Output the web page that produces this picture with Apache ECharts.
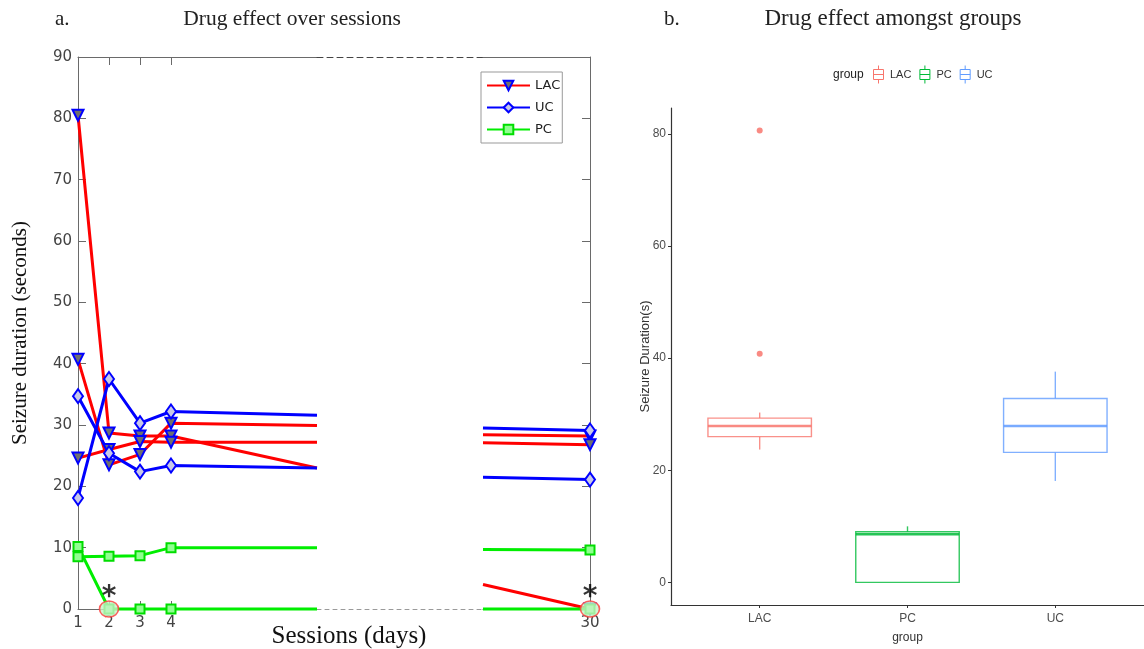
<!DOCTYPE html>
<html>
<head>
<meta charset="utf-8">
<title>Drug effect</title>
<script src="https://cdn.jsdelivr.net/npm/echarts@6.0.0/dist/echarts.min.js"></script>
<style>
    html, body { margin: 0; padding: 0; background: #fff; }
    #main { width: 1144px; height: 649px; }
</style>
</head>
<body>
<div id="main"></div>
<script>
"use strict";

// a. sessions on the x axis (the axis is broken between breakStart and breakEnd)
var sessions = [1, 2, 3, 4];
var lastSession = 30;
var breakStart = 8.71;
var breakEnd = 26.55;

// one row per animal, values at sessions 1..4
var lacEarly = [[80.5, 28.7, 28.2, 28.2], [40.7, 23.5, 25.2, 30.3], [24.6, 26.0, 27.3, 27.2]];
var lacAtBreakStart = [23.0, 29.9, 27.2];
var lacAtBreakEnd = [4.0, 28.4, 27.1];
var lacDay30 = [0, 28.2, 26.8];

var ucEarly = [[34.7, 25.4, 22.4, 23.4], [18.1, 37.5, 30.3, 32.2]];
var ucAtBreakStart = [23.0, 31.6];
var ucAtBreakEnd = [21.5, 29.5];
var ucDay30 = [21.1, 29.1];

var pcEarly = [[8.5, 8.6, 8.7, 10.0], [10.2, 0, 0, 0]];
var pcAtBreakStart = [10.0, 0];
var pcAtBreakEnd = [9.7, 0];
var pcDay30 = [9.6, 0];

// significant points (*)
var sigSessions = [2, 30];
var sigValues = [0, 0];

var yTicksA = [0, 10, 20, 30, 40, 50, 60, 70, 80, 90];

// b. box plot per group: min, Q1, median, Q3, max
var groups = ['LAC', 'PC', 'UC'];
var groupColors = ['#F8766D', '#00BA38', '#619CFF'];
var boxStats = [
    [23.7, 26.0, 27.9, 29.3, 30.3],
    [0, 0, 8.6, 9.05, 10.0],
    [18.1, 23.2, 27.9, 32.8, 37.6]
];
var outlierGroup = [1, 1];
var outlierValues = [40.8, 80.6];
var yTicksB = [0, 20, 40, 60, 80];

var chart = echarts.init(document.getElementById('main'));

var frameColor = '#6a6a6a';
var serif = '"Liberation Serif", "Times New Roman", serif';
var sans = '"DejaVu Sans", sans-serif';
var rSans = '"Liberation Sans", Arial, sans-serif';

var styles = {
    LAC: { line: '#ff0000', symbol: 'triangle', rotate: 180, size: 11, fill: '#6f6f6f', border: '#0000ff' },
    UC: { line: '#0000ff', symbol: 'diamond', rotate: 0, size: [10, 14], fill: '#c8c8e8', border: '#0000ff' },
    PC: { line: '#00ee00', symbol: 'rect', rotate: 0, size: 9, fill: '#90ff90', border: '#00dd00' }
};

function subjectSeries(name, early, atStart, atEnd, day30) {
    var st = styles[name];
    var left = sessions.map(function (s, j) { return [s, early[j]]; });
    left.push({ value: [breakStart, atStart], symbol: 'none' });
    var right = [{ value: [breakEnd, atEnd], symbol: 'none' }, [lastSession, day30]];
    var base = {
        type: 'line',
        name: name,
        symbol: st.symbol,
        symbolRotate: st.rotate,
        symbolSize: st.size,
        showAllSymbol: true,
        clip: false,
        lineStyle: { color: st.line, width: 3 },
        itemStyle: { color: st.fill, borderColor: st.border, borderWidth: 2 },
        emphasis: { disabled: true },
        animation: false
    };
    return [
        Object.assign({}, base, { xAxisIndex: 0, yAxisIndex: 0, data: left }),
        Object.assign({}, base, { xAxisIndex: 4, yAxisIndex: 2, data: right })
    ];
}

var series = [];
lacEarly.forEach(function (row, i) {
    series = series.concat(subjectSeries('LAC', row, lacAtBreakStart[i], lacAtBreakEnd[i], lacDay30[i]));
});
ucEarly.forEach(function (row, i) {
    series = series.concat(subjectSeries('UC', row, ucAtBreakStart[i], ucAtBreakEnd[i], ucDay30[i]));
});
pcEarly.forEach(function (row, i) {
    series = series.concat(subjectSeries('PC', row, pcAtBreakStart[i], pcAtBreakEnd[i], pcDay30[i]));
});

// circled points with star
sigSessions.forEach(function (s, i) {
    var onLeft = s < breakStart;
    series.push({
        type: 'scatter',
        xAxisIndex: onLeft ? 0 : 4,
        yAxisIndex: onLeft ? 0 : 2,
        data: [[s, sigValues[i]]],
        symbol: 'circle',
        symbolSize: [19, 16],
        clip: false,
        z: 5,
        itemStyle: { color: '#c6f3c6', borderColor: '#ff3b3b', borderWidth: 1.5 },
        label: {
            show: true, position: 'top', distance: -11, formatter: '*',
            fontSize: 28, fontWeight: 'bold', color: '#000', fontFamily: sans
        },
        emphasis: { disabled: true },
        animation: false
    });
});

// box plot (ggplot style, no whisker caps)
function boxRenderer(color) {
    return function (params, api) {
        var x = api.value(0);
        var lo = api.coord([x, api.value(1)]);
        var q1 = api.coord([x, api.value(2)]);
        var med = api.coord([x, api.value(3)]);
        var q3 = api.coord([x, api.value(4)]);
        var hi = api.coord([x, api.value(5)]);
        var half = api.size([0.7, 0])[0] / 2;
        var stroke = { stroke: color, lineWidth: 1.4, opacity: 0.8 };
        return {
            type: 'group',
            children: [
                { type: 'line', shape: { x1: hi[0], y1: hi[1], x2: q3[0], y2: q3[1] }, style: stroke },
                { type: 'line', shape: { x1: q1[0], y1: q1[1], x2: lo[0], y2: lo[1] }, style: stroke },
                { type: 'rect', shape: { x: q3[0] - half, y: q3[1], width: half * 2, height: q1[1] - q3[1] },
                  style: Object.assign({ fill: '#fff' }, stroke) },
                { type: 'line', shape: { x1: med[0] - half, y1: med[1], x2: med[0] + half, y2: med[1] },
                  style: { stroke: color, lineWidth: 2.6, opacity: 0.85 } }
            ]
        };
    };
}

groups.forEach(function (g, i) {
    series.push({
        type: 'custom',
        name: 'box ' + g,
        xAxisIndex: 6,
        yAxisIndex: 3,
        data: [[i + 1].concat(boxStats[i])],
        encode: { x: 0, y: [1, 2, 3, 4, 5] },
        itemStyle: { color: '#fff', borderColor: groupColors[i] },
        renderItem: boxRenderer(groupColors[i]),
        animation: false
    });
});

series.push({
    type: 'scatter',
    xAxisIndex: 6,
    yAxisIndex: 3,
    data: outlierValues.map(function (v, i) { return [outlierGroup[i], v]; }),
    symbolSize: 6,
    itemStyle: { color: '#F8766D', opacity: 0.85 },
    emphasis: { disabled: true },
    animation: false
});

var frameTick = { show: true, inside: true, length: 8, lineStyle: { color: frameColor } };

var option = {
    backgroundColor: '#fff',
    animation: false,
    graphic: [
        { type: 'text', x: 55, y: 19, style: { text: 'a.', font: '21px ' + serif, fill: '#222', verticalAlign: 'middle' } },
        { type: 'text', x: 292, y: 19, style: { text: 'Drug effect over sessions', font: '21.5px ' + serif, fill: '#222', align: 'center', verticalAlign: 'middle' } },
        { type: 'text', x: 664, y: 19, style: { text: 'b.', font: '21px ' + serif, fill: '#222', verticalAlign: 'middle' } },
        { type: 'text', x: 893, y: 19, style: { text: 'Drug effect amongst groups', font: '23px ' + serif, fill: '#222', align: 'center', verticalAlign: 'middle' } },
        { type: 'text', x: 349, y: 636, style: { text: 'Sessions (days)', font: '25px ' + serif, fill: '#111', align: 'center', verticalAlign: 'middle' } },
        { type: 'text', x: 833, y: 75, style: { text: 'group', font: '12px ' + rSans, fill: '#222', verticalAlign: 'middle' } }
    ],
    legend: [{
        data: ['LAC', 'UC', 'PC'],
        orient: 'vertical',
        left: 481,
        top: 72,
        itemWidth: 43,
        itemHeight: 12,
        itemGap: 9,
        padding: [7, 2, 7, 5],
        borderColor: '#999',
        borderWidth: 1,
        backgroundColor: '#fff',
        selectedMode: false,
        textStyle: { fontFamily: sans, fontSize: 13, color: '#222' }
    }, {
        data: groups.map(function (g, i) {
            return { name: 'box ' + g, itemStyle: { color: '#fff', borderColor: groupColors[i], borderWidth: 1 } };
        }),
        icon: 'path://M5,0L5,4M0,4L10,4L10,14L0,14ZM0,9L10,9M5,14L5,18',
        left: 868,
        top: 60,
        itemWidth: 13,
        itemHeight: 18,
        itemGap: 8,
        selectedMode: false,
        formatter: function (n) { return n.replace('box ', ''); },
        textStyle: { fontFamily: rSans, fontSize: 11, color: '#333' }
    }],
    grid: [
        { left: 78, top: 57, width: 239, height: 552 },
        { left: 317, top: 57, width: 166, height: 552 },
        { left: 483, top: 57, width: 107, height: 552 },
        { left: 671, top: 108, width: 478, height: 497 }
    ],
    xAxis: [
        {   // 0: early sessions, bottom
            type: 'value', gridIndex: 0, min: 1, max: breakStart, position: 'bottom',
            axisLine: { show: true, onZero: false, lineStyle: { color: frameColor } },
            axisTick: Object.assign({}, frameTick, { customValues: [2, 3, 4] }),
            axisLabel: { customValues: sessions, fontFamily: sans, fontSize: 15, color: '#444', margin: 7 },
            splitLine: { show: false }
        },
        {   // 1: early sessions, top
            type: 'value', gridIndex: 0, min: 1, max: breakStart, position: 'top',
            axisLine: { show: true, onZero: false, lineStyle: { color: frameColor } },
            axisTick: Object.assign({}, frameTick, { customValues: [2, 3, 4] }),
            axisLabel: { show: false },
            splitLine: { show: false }
        },
        {   // 2: broken part, bottom
            type: 'value', gridIndex: 1, min: breakStart, max: breakEnd, position: 'bottom',
            axisLine: { show: true, onZero: false, lineStyle: { color: '#9a9a9a', type: [4, 4] } },
            axisTick: { show: false }, axisLabel: { show: false }, splitLine: { show: false }
        },
        {   // 3: broken part, top
            type: 'value', gridIndex: 1, min: breakStart, max: breakEnd, position: 'top',
            axisLine: { show: true, onZero: false, lineStyle: { color: '#444', type: [6, 4] } },
            axisTick: { show: false }, axisLabel: { show: false }, splitLine: { show: false }
        },
        {   // 4: day 30, bottom
            type: 'value', gridIndex: 2, min: breakEnd, max: lastSession, position: 'bottom',
            axisLine: { show: true, onZero: false, lineStyle: { color: frameColor } },
            axisTick: { show: false },
            axisLabel: { customValues: [lastSession], fontFamily: sans, fontSize: 15, color: '#444', margin: 7 },
            splitLine: { show: false }
        },
        {   // 5: day 30, top
            type: 'value', gridIndex: 2, min: breakEnd, max: lastSession, position: 'top',
            axisLine: { show: true, onZero: false, lineStyle: { color: frameColor } },
            axisTick: { show: false }, axisLabel: { show: false }, splitLine: { show: false }
        },
        {   // 6: groups
            type: 'value', gridIndex: 3, min: 0.4, max: 3.6, position: 'bottom',
            name: 'group', nameLocation: 'middle', nameGap: 27,
            nameTextStyle: { fontFamily: rSans, fontSize: 12, color: '#333' },
            axisLine: { show: true, onZero: false, lineStyle: { color: '#333', width: 1.2 } },
            axisTick: { show: true, length: 3, customValues: [1, 2, 3], lineStyle: { color: '#333' } },
            axisLabel: {
                customValues: [1, 2, 3], margin: 8, fontFamily: rSans, fontSize: 12, color: '#4d4d4d',
                formatter: function (v) { return groups[Math.round(v) - 1]; }
            },
            splitLine: { show: false }
        }
    ],
    yAxis: [
        {   // 0: seizure duration, left
            type: 'value', gridIndex: 0, min: 0, max: 90, interval: 10,
            name: 'Seizure duration (seconds)', nameLocation: 'middle', nameGap: 47,
            nameTextStyle: { fontFamily: serif, fontSize: 21, color: '#111' },
            axisLine: { show: true, onZero: false, lineStyle: { color: frameColor } },
            axisTick: Object.assign({}, frameTick, { customValues: yTicksA.slice(1, -1) }),
            axisLabel: { customValues: yTicksA, fontFamily: sans, fontSize: 15, color: '#444', margin: 6 },
            splitLine: { show: false }
        },
        {   // 1: broken part
            type: 'value', gridIndex: 1, min: 0, max: 90, show: false
        },
        {   // 2: day 30, right side
            type: 'value', gridIndex: 2, min: 0, max: 90, position: 'right',
            axisLine: { show: true, onZero: false, lineStyle: { color: frameColor } },
            axisTick: Object.assign({}, frameTick, { customValues: yTicksA.slice(1, -1) }),
            axisLabel: { show: false },
            splitLine: { show: false }
        },
        {   // 3: box plot
            type: 'value', gridIndex: 3, min: -4.03, max: 84.63,
            name: 'Seizure Duration(s)', nameLocation: 'middle', nameGap: 19, nameMoveOverlap: false,
            nameTextStyle: { fontFamily: rSans, fontSize: 13, color: '#333' },
            axisLine: { show: true, onZero: false, lineStyle: { color: '#333', width: 1.2 } },
            axisTick: { show: true, length: 3, customValues: yTicksB, lineStyle: { color: '#333' } },
            axisLabel: { customValues: yTicksB, margin: 5, fontFamily: rSans, fontSize: 12, color: '#4d4d4d' },
            splitLine: { show: false }
        }
    ],
    series: series
};

chart.setOption(option);
</script>
</body>
</html>
